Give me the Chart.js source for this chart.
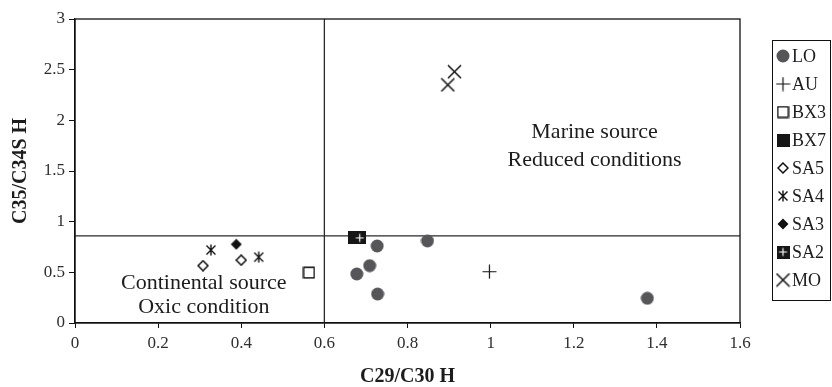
<!DOCTYPE html>
<html>
<head>
<meta charset="utf-8">
<script src="https://cdn.jsdelivr.net/npm/chart.js@4/dist/chart.umd.min.js"></script>
<style>
  html, body { margin: 0; padding: 0; background: #fff; }
  #wrap { width: 832px; height: 387px; }
</style>
</head>
<body>
<div id="wrap"><canvas id="myChart"></canvas></div>
<script>
// sample groups, C29/C30 H (x) against C35/C34S H (y)
const loX = [0.848, 0.727, 0.709, 0.678, 0.728, 1.377];
const loY = [0.81, 0.76, 0.566, 0.484, 0.286, 0.244];
const auX = [0.997];
const auY = [0.506];
const bx3X = [0.563];
const bx3Y = [0.497];
const bx7X = [0.672];
const bx7Y = [0.84];
const sa5X = [0.308, 0.40];
const sa5Y = [0.566, 0.62];
const sa4X = [0.327, 0.442];
const sa4Y = [0.72, 0.65];
const sa3X = [0.388];
const sa3Y = [0.777];
const sa2X = [0.685];
const sa2Y = [0.84];
const moX = [0.913, 0.897];
const moY = [2.48, 2.35];

// limits between the source / redox fields
const splitX = 0.6;
const splitY = 0.86;

const xTicks = [0, 0.2, 0.4, 0.6, 0.8, 1, 1.2, 1.4, 1.6];
const yTicks = [0, 0.5, 1, 1.5, 2, 2.5, 3];

const serif = '"Liberation Serif", "Times New Roman", serif';
const ink = '#1c1c1c';

function marker(w, h, draw) {
  const c = document.createElement('canvas');
  c.width = w; c.height = h;
  const g = c.getContext('2d');
  g.strokeStyle = '#111';
  g.fillStyle = '#111';
  draw(g, w, h);
  return c;
}

const mk = {
  circle: marker(14, 14, (g) => {
    g.fillStyle = '#565658';
    g.beginPath(); g.arc(7, 7, 6.5, 0, Math.PI * 2); g.fill();
  }),
  plus: marker(15, 15, (g) => {
    g.lineWidth = 1.2;
    g.beginPath();
    g.moveTo(7.5, 0.5); g.lineTo(7.5, 14.5);
    g.moveTo(0.5, 7.5); g.lineTo(14.5, 7.5);
    g.stroke();
  }),
  openSquare: marker(13, 13, (g) => {
    g.fillStyle = '#fff';
    g.fillRect(1, 1, 11, 11);
    g.lineWidth = 1.5;
    g.strokeRect(1.25, 1.25, 10.5, 10.5);
  }),
  fullSquare: marker(13, 13, (g) => {
    g.fillStyle = '#161616';
    g.fillRect(0, 0, 13, 13);
  }),
  openDiamond: marker(12, 12, (g) => {
    g.fillStyle = '#fff';
    g.lineWidth = 1.5;
    g.beginPath();
    g.moveTo(6, 1); g.lineTo(11, 6); g.lineTo(6, 11); g.lineTo(1, 6); g.closePath();
    g.fill(); g.stroke();
  }),
  asterisk: marker(12, 12, (g) => {
    g.lineWidth = 1.4;
    g.beginPath();
    g.moveTo(1.5, 1.5); g.lineTo(10.5, 10.5);
    g.moveTo(10.5, 1.5); g.lineTo(1.5, 10.5);
    g.moveTo(6, 0.5); g.lineTo(6, 11.5);
    g.stroke();
  }),
  fullDiamond: marker(12, 12, (g) => {
    g.beginPath();
    g.moveTo(6, 0.5); g.lineTo(11.5, 6); g.lineTo(6, 11.5); g.lineTo(0.5, 6); g.closePath();
    g.fill();
  }),
  plusSquare: marker(13, 13, (g) => {
    g.fillStyle = '#161616';
    g.fillRect(0, 0, 13, 13);
    g.strokeStyle = '#fff';
    g.lineWidth = 1.2;
    g.beginPath();
    g.moveTo(6.5, 2.5); g.lineTo(6.5, 10.5);
    g.moveTo(2.5, 6.5); g.lineTo(10.5, 6.5);
    g.stroke();
  }),
  cross: marker(15, 15, (g) => {
    g.lineWidth = 1.5;
    g.beginPath();
    g.moveTo(1, 1); g.lineTo(14, 14);
    g.moveTo(14, 1); g.lineTo(1, 14);
    g.stroke();
  })
};

function pts(xs, ys) {
  return xs.map((x, i) => ({ x: x, y: ys[i] }));
}

function group(label, xs, ys, style, order) {
  return {
    label: label,
    data: pts(xs, ys),
    pointStyle: style,
    pointRadius: 6,
    pointHoverRadius: 6,
    showLine: false,
    order: order || 0
  };
}

function divider(data) {
  return {
    label: '',
    data: data,
    showLine: true,
    borderColor: '#2a2a2a',
    borderWidth: 1.3,
    pointRadius: 0,
    pointHoverRadius: 0,
    order: 5,
    isDivider: true
  };
}

const datasets = [
  group('LO', loX, loY, mk.circle),
  group('AU', auX, auY, mk.plus),
  group('BX3', bx3X, bx3Y, mk.openSquare),
  group('BX7', bx7X, bx7Y, mk.fullSquare, 1),
  group('SA5', sa5X, sa5Y, mk.openDiamond),
  group('SA4', sa4X, sa4Y, mk.asterisk),
  group('SA3', sa3X, sa3Y, mk.fullDiamond),
  group('SA2', sa2X, sa2Y, mk.plusSquare),
  group('MO', moX, moY, mk.cross),
  divider([{ x: splitX, y: yTicks[0] }, { x: splitX, y: yTicks[yTicks.length - 1] }]),
  divider([{ x: xTicks[0], y: splitY }, { x: xTicks[xTicks.length - 1], y: splitY }])
];

// field captions, placed in data units
const notes = [
  { lines: ['Marine source', 'Reduced conditions'], x: 1.25, y: [1.83, 1.55] },
  { lines: ['Continental source', 'Oxic condition'], x: 0.31, y: [0.335, 0.1] }
];

const framePlugin = {
  id: 'frame',
  afterDraw(chart) {
    const { ctx, chartArea: a, scales } = chart;
    ctx.save();
    ctx.strokeStyle = '#111';
    ctx.lineWidth = 1.3;
    ctx.strokeRect(a.left, a.top, a.right - a.left, a.bottom - a.top);

    ctx.fillStyle = ink;
    ctx.font = '22px ' + serif;
    ctx.textAlign = 'center';
    ctx.textBaseline = 'alphabetic';
    notes.forEach((n) => {
      const px = scales.x.getPixelForValue(n.x);
      n.lines.forEach((t, i) => ctx.fillText(t, px, scales.y.getPixelForValue(n.y[i])));
    });

    // legend box
    const groups = chart.data.datasets.filter((d) => !d.isDivider);
    const boxL = 772, boxT = 40, rowH = 28;
    ctx.strokeStyle = '#111';
    ctx.lineWidth = 1;
    ctx.strokeRect(boxL + 0.5, boxT + 0.5, 58, 260);
    ctx.font = '18px ' + serif;
    ctx.textAlign = 'left';
    ctx.textBaseline = 'middle';
    groups.forEach((d, i) => {
      const cy = boxT + 16 + i * rowH;
      const img = d.pointStyle;
      ctx.drawImage(img, boxL + 11 - img.width / 2, cy - img.height / 2);
      ctx.fillText(d.label, boxL + 20, cy + 1);
    });
    ctx.restore();
  }
};

new Chart(document.getElementById('myChart'), {
  type: 'scatter',
  data: { datasets: datasets },
  options: {
    responsive: true,
    maintainAspectRatio: false,
    animation: false,
    events: [],
    layout: { padding: { top: 19, right: 92, bottom: 0, left: 0 } },
    plugins: {
      legend: { display: false },
      tooltip: { enabled: false }
    },
    scales: {
      x: {
        type: 'linear',
        min: xTicks[0],
        max: xTicks[xTicks.length - 1],
        afterBuildTicks(scale) { scale.ticks = xTicks.map((v) => ({ value: v })); },
        afterFit(scale) { scale.height = 64; },
        ticks: {
          color: '#2e2e2e',
          padding: 5,
          maxRotation: 0,
          font: { family: serif, size: 17 },
          callback: (v) => String(v)
        },
        grid: { drawOnChartArea: false, drawTicks: true, tickLength: 5, color: '#111' },
        border: { color: '#111', width: 1.3 },
        title: {
          display: true,
          text: 'C29/C30 H',
          color: ink,
          padding: { top: 0, bottom: 0 },
          font: { family: serif, size: 20, weight: 'bold', lineHeight: 1 }
        }
      },
      y: {
        type: 'linear',
        min: yTicks[0],
        max: yTicks[yTicks.length - 1],
        afterBuildTicks(scale) { scale.ticks = yTicks.map((v) => ({ value: v })); },
        afterFit(scale) { scale.width = 75; },
        ticks: {
          color: '#2e2e2e',
          padding: 4,
          font: { family: serif, size: 17 },
          callback: (v) => String(v)
        },
        grid: { drawOnChartArea: false, drawTicks: true, tickLength: 6, color: '#111' },
        border: { color: '#111', width: 1.3 },
        title: {
          display: true,
          text: 'C35/C34S H',
          color: ink,
          padding: { top: 11, bottom: 0 },
          font: { family: serif, size: 20, weight: 'bold', lineHeight: 1 }
        }
      }
    }
  },
  plugins: [framePlugin]
});
</script>
</body>
</html>
